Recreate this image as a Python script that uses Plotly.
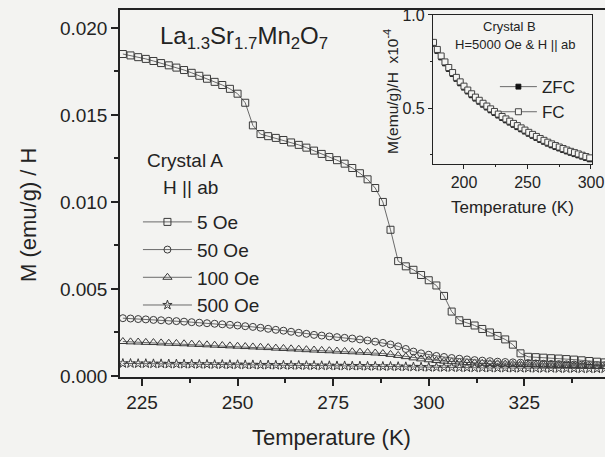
import plotly.graph_objects as go

# Crystal A, H || ab: M/H versus temperature for four applied fields
temps_a = [220, 222, 224, 226, 228, 230, 232, 234, 236, 238, 240, 242, 244, 246, 248,
           250, 252, 254, 256, 258, 260, 262, 264, 266, 268, 270, 272, 274, 276, 278,
           280, 282, 284, 286, 288, 290, 292, 294, 296, 298, 300, 302, 304, 306, 308,
           310, 312, 314, 316, 318, 320, 322, 324, 326, 328, 330, 332, 334, 336, 338,
           340, 342, 344, 346]

mh_5oe = [0.0185, 0.01842, 0.01832, 0.01822, 0.0181, 0.01798, 0.01785, 0.01772, 0.01758,
          0.01742, 0.01725, 0.01708, 0.0169, 0.01672, 0.0165, 0.01622, 0.0157, 0.0144,
          0.0139, 0.01378, 0.01368, 0.01356, 0.01342, 0.01328, 0.01312, 0.01295, 0.01276,
          0.01258, 0.0124, 0.0122, 0.01195, 0.01165, 0.0113, 0.0108, 0.0100, 0.0084,
          0.0066, 0.0063, 0.0061, 0.0058, 0.0055, 0.0052, 0.0046, 0.0037, 0.0032, 0.00305,
          0.0029, 0.0027, 0.0025, 0.0023, 0.0021, 0.0018, 0.0013, 0.0011, 0.00108, 0.00105,
          0.00102, 0.001, 0.00097, 0.00094, 0.0009, 0.00086, 0.00082, 0.00078]

mh_50oe = [0.00332, 0.0033, 0.00327, 0.00325, 0.00322, 0.0032, 0.00317, 0.00315, 0.00312,
           0.00309, 0.00306, 0.00303, 0.003, 0.00297, 0.00294, 0.0029, 0.00286, 0.00282,
           0.00277, 0.00271, 0.00265, 0.0026, 0.00254, 0.00248, 0.00242, 0.00236, 0.00232,
           0.00227, 0.00223, 0.00219, 0.00215, 0.0021, 0.00204, 0.00197, 0.0019, 0.00181,
           0.0017, 0.00155, 0.0014, 0.0013, 0.00122, 0.00115, 0.00109, 0.00103, 0.00099,
           0.00095, 0.00091, 0.00088, 0.00085, 0.00082, 0.0008, 0.00078, 0.00076, 0.00074,
           0.00072, 0.0007, 0.00069, 0.00068, 0.00067, 0.00066, 0.00065, 0.00064, 0.00063,
           0.00062]

mh_100oe = [0.00198, 0.00196, 0.00195, 0.00193, 0.00192, 0.0019, 0.00188, 0.00187, 0.00185,
            0.00183, 0.00181, 0.00179, 0.00177, 0.00175, 0.00173, 0.00171, 0.00169, 0.00167,
            0.00165, 0.00163, 0.0016, 0.00158, 0.00156, 0.00154, 0.00151, 0.00149, 0.00147,
            0.00145, 0.00143, 0.00141, 0.00139, 0.00137, 0.00135, 0.00132, 0.00129, 0.00124,
            0.00118, 0.00111, 0.00104, 0.00098, 0.00093, 0.00089, 0.00085, 0.00082, 0.0008,
            0.00077, 0.00075, 0.00073, 0.00071, 0.0007, 0.00068, 0.00067, 0.00066, 0.00065,
            0.00064, 0.00063, 0.00062, 0.00061, 0.0006, 0.00059, 0.00058, 0.00057, 0.00056,
            0.00055]

mh_500oe = [0.00072, 0.00072, 0.00071, 0.00071, 0.0007, 0.0007, 0.00069, 0.00069, 0.00068,
            0.00068, 0.00067, 0.00067, 0.00066, 0.00066, 0.00065, 0.00065, 0.00064, 0.00064,
            0.00063, 0.00063, 0.00062, 0.00062, 0.00061, 0.00061, 0.0006, 0.0006, 0.00059,
            0.00059, 0.00058, 0.00058, 0.00057, 0.00057, 0.00056, 0.00056, 0.00055, 0.00055,
            0.00054, 0.00053, 0.00052, 0.00051, 0.0005, 0.0005, 0.00049, 0.00049, 0.00048,
            0.00048, 0.00047, 0.00047, 0.00046, 0.00046, 0.00046, 0.00045, 0.00045, 0.00045,
            0.00044, 0.00044, 0.00044, 0.00043, 0.00043, 0.00043, 0.00042, 0.00042, 0.00042,
            0.00042]

# Crystal B, H = 5000 Oe, H || ab (units of 1e-4)
temps_b = [176, 179, 182, 185, 188, 191, 194, 197, 200, 203, 206, 209, 212, 215, 218,
           221, 224, 227, 230, 233, 236, 239, 242, 245, 248, 251, 254, 257, 260, 263,
           266, 269, 272, 275, 278, 281, 284, 287, 290, 293, 296, 299]
mh_zfc = [0.845, 0.807, 0.772, 0.74, 0.71, 0.683, 0.657, 0.633, 0.61, 0.589, 0.569, 0.551,
          0.534, 0.518, 0.503, 0.488, 0.474, 0.46, 0.447, 0.434, 0.422, 0.41, 0.398, 0.386,
          0.374, 0.362, 0.351, 0.34, 0.329, 0.319, 0.309, 0.3, 0.291, 0.283, 0.275, 0.267,
          0.26, 0.253, 0.246, 0.239, 0.232, 0.225]
mh_fc = [0.853, 0.815, 0.78, 0.748, 0.718, 0.691, 0.665, 0.641, 0.618, 0.597, 0.577, 0.559,
         0.542, 0.526, 0.511, 0.496, 0.482, 0.468, 0.455, 0.442, 0.43, 0.418, 0.406, 0.394,
         0.382, 0.37, 0.359, 0.348, 0.337, 0.327, 0.317, 0.308, 0.299, 0.291, 0.283, 0.275,
         0.268, 0.261, 0.254, 0.247, 0.24, 0.233]

field_labels = ["5 Oe", "50 Oe", "100 Oe", "500 Oe"]
field_series = [mh_5oe, mh_50oe, mh_100oe, mh_500oe]
field_symbols = ["square-open", "circle-open", "triangle-up-open", "star-open"]
field_sizes = [7, 7, 8, 7]

FONT = "Liberation Sans, Arial, sans-serif"
INK = "#232323"
LINE = "#6a6a6a"
BG = "#f3f3f1"

fig = go.Figure()

# draw 500 Oe first so that the 5 Oe squares sit on top
for i in reversed(range(4)):
    fig.add_trace(go.Scatter(
        x=temps_a, y=field_series[i], mode="lines+markers", name=field_labels[i],
        legendrank=i + 1, legend="legend",
        line=dict(color=LINE, width=1),
        marker=dict(symbol=field_symbols[i], size=field_sizes[i],
                    color="#3a3a3a", line=dict(width=1, color="#3a3a3a")),
        xaxis="x", yaxis="y",
    ))

fig.add_trace(go.Scatter(
    x=temps_b, y=mh_zfc, mode="lines+markers", name="ZFC", legend="legend2",
    legendrank=1,
    line=dict(color=LINE, width=1),
    marker=dict(symbol="square", size=5, color="#111111", line=dict(width=0.8, color="#111111")),
    xaxis="x2", yaxis="y2",
))
fig.add_trace(go.Scatter(
    x=temps_b, y=mh_fc, mode="lines+markers", name="FC", legend="legend2",
    legendrank=2,
    line=dict(color=LINE, width=1),
    marker=dict(symbol="square", size=6, color="#f5f5f3", line=dict(width=1, color="#444444")),
    xaxis="x2", yaxis="y2",
))

axis_common = dict(showline=True, linecolor=INK, linewidth=1.5, ticks="outside",
                   tickcolor=INK, showgrid=False, zeroline=False,
                   tickfont=dict(family=FONT, size=19, color=INK))

fig.update_layout(
    width=605, height=457,
    margin=dict(l=120, r=0, t=10, b=80, autoexpand=False),
    paper_bgcolor=BG, plot_bgcolor=BG,
    font=dict(family=FONT, color=INK),
    xaxis=dict(**axis_common, range=[219.25, 346.1], tick0=225, dtick=25, ticklen=7,
               tickwidth=1.5, mirror=True,
               minor=dict(ticks="outside", dtick=12.5, tick0=225, ticklen=4, tickcolor=INK)),
    yaxis=dict(**axis_common, range=[-0.00006, 0.02103], tick0=0, dtick=0.005,
               tickformat=".3f", ticklen=7, tickwidth=1.5, mirror=False,
               minor=dict(ticks="outside", dtick=0.0025, tick0=0, ticklen=4, tickcolor=INK)),
    xaxis2=dict(showline=True, linecolor=INK, linewidth=1.2, mirror=True, ticks="outside",
                tickcolor=INK, ticklen=4, showgrid=False, zeroline=False,
                domain=[0.6454, 0.9732], anchor="y2", range=[175.6, 300.8],
                tick0=200, dtick=50,
                minor=dict(ticks="outside", dtick=25, tick0=200, ticklen=2, tickcolor=INK),
                tickfont=dict(family=FONT, size=16, color=INK)),
    yaxis2=dict(showline=True, linecolor=INK, linewidth=1.2, mirror=True, ticks="outside",
                tickcolor=INK, ticklen=4, showgrid=False, zeroline=False,
                domain=[0.5804, 0.9864], anchor="x2", range=[0.2, 1.0],
                tickvals=[0.5, 1.0], ticktext=["0.5", "1.0"],
                minor=dict(ticks="outside", tickvals=[0.25, 0.75], ticklen=2, tickcolor=INK),
                tickfont=dict(family=FONT, size=16, color=INK)),
    legend=dict(x=0.037, y=0.474, xanchor="left", yanchor="top",
                bgcolor="rgba(0,0,0,0)", itemwidth=49, traceorder="normal",
                font=dict(family=FONT, size=19, color=INK)),
    legend2=dict(x=0.773, y=0.839, xanchor="left", yanchor="top",
                 bgcolor="rgba(0,0,0,0)", itemwidth=37, traceorder="normal",
                 font=dict(family=FONT, size=17, color=INK)),
    showlegend=True,
)

annotations = [
    dict(text="La<sub>1.3</sub>Sr<sub>1.7</sub>Mn<sub>2</sub>O<sub>7</sub>",
         x=0.079, y=0.925, xanchor="left", font=dict(size=24)),
    dict(text="Crystal A", x=0.134, y=0.591, font=dict(size=19)),
    dict(text="H || ab", x=0.146, y=0.515, font=dict(size=19)),
    dict(text="Temperature (K)", x=0.437, y=-0.166, font=dict(size=22)),
    dict(text="M (emu/g) / H", x=-0.19, y=0.441, textangle=-90, font=dict(size=22)),
    dict(text="Crystal B", x=0.804, y=0.954, font=dict(size=13)),
    dict(text="H=5000 Oe &amp; H || ab", x=0.816, y=0.905, font=dict(size=13)),
    dict(text="Temperature (K)", x=0.810, y=0.463, font=dict(size=17)),
    dict(text="M(emu/g)/H  x10<sup>-4</sup>", x=0.559, y=0.777, textangle=-90,
         font=dict(size=15.5)),
]
for a in annotations:
    a.setdefault("xref", "paper")
    a.setdefault("yref", "paper")
    a.setdefault("xanchor", "center")
    a.setdefault("yanchor", "middle")
    a.setdefault("showarrow", False)
    a["font"] = dict(family=FONT, color=INK, **a["font"])
fig.update_layout(annotations=annotations)

fig.write_html("out.html")
